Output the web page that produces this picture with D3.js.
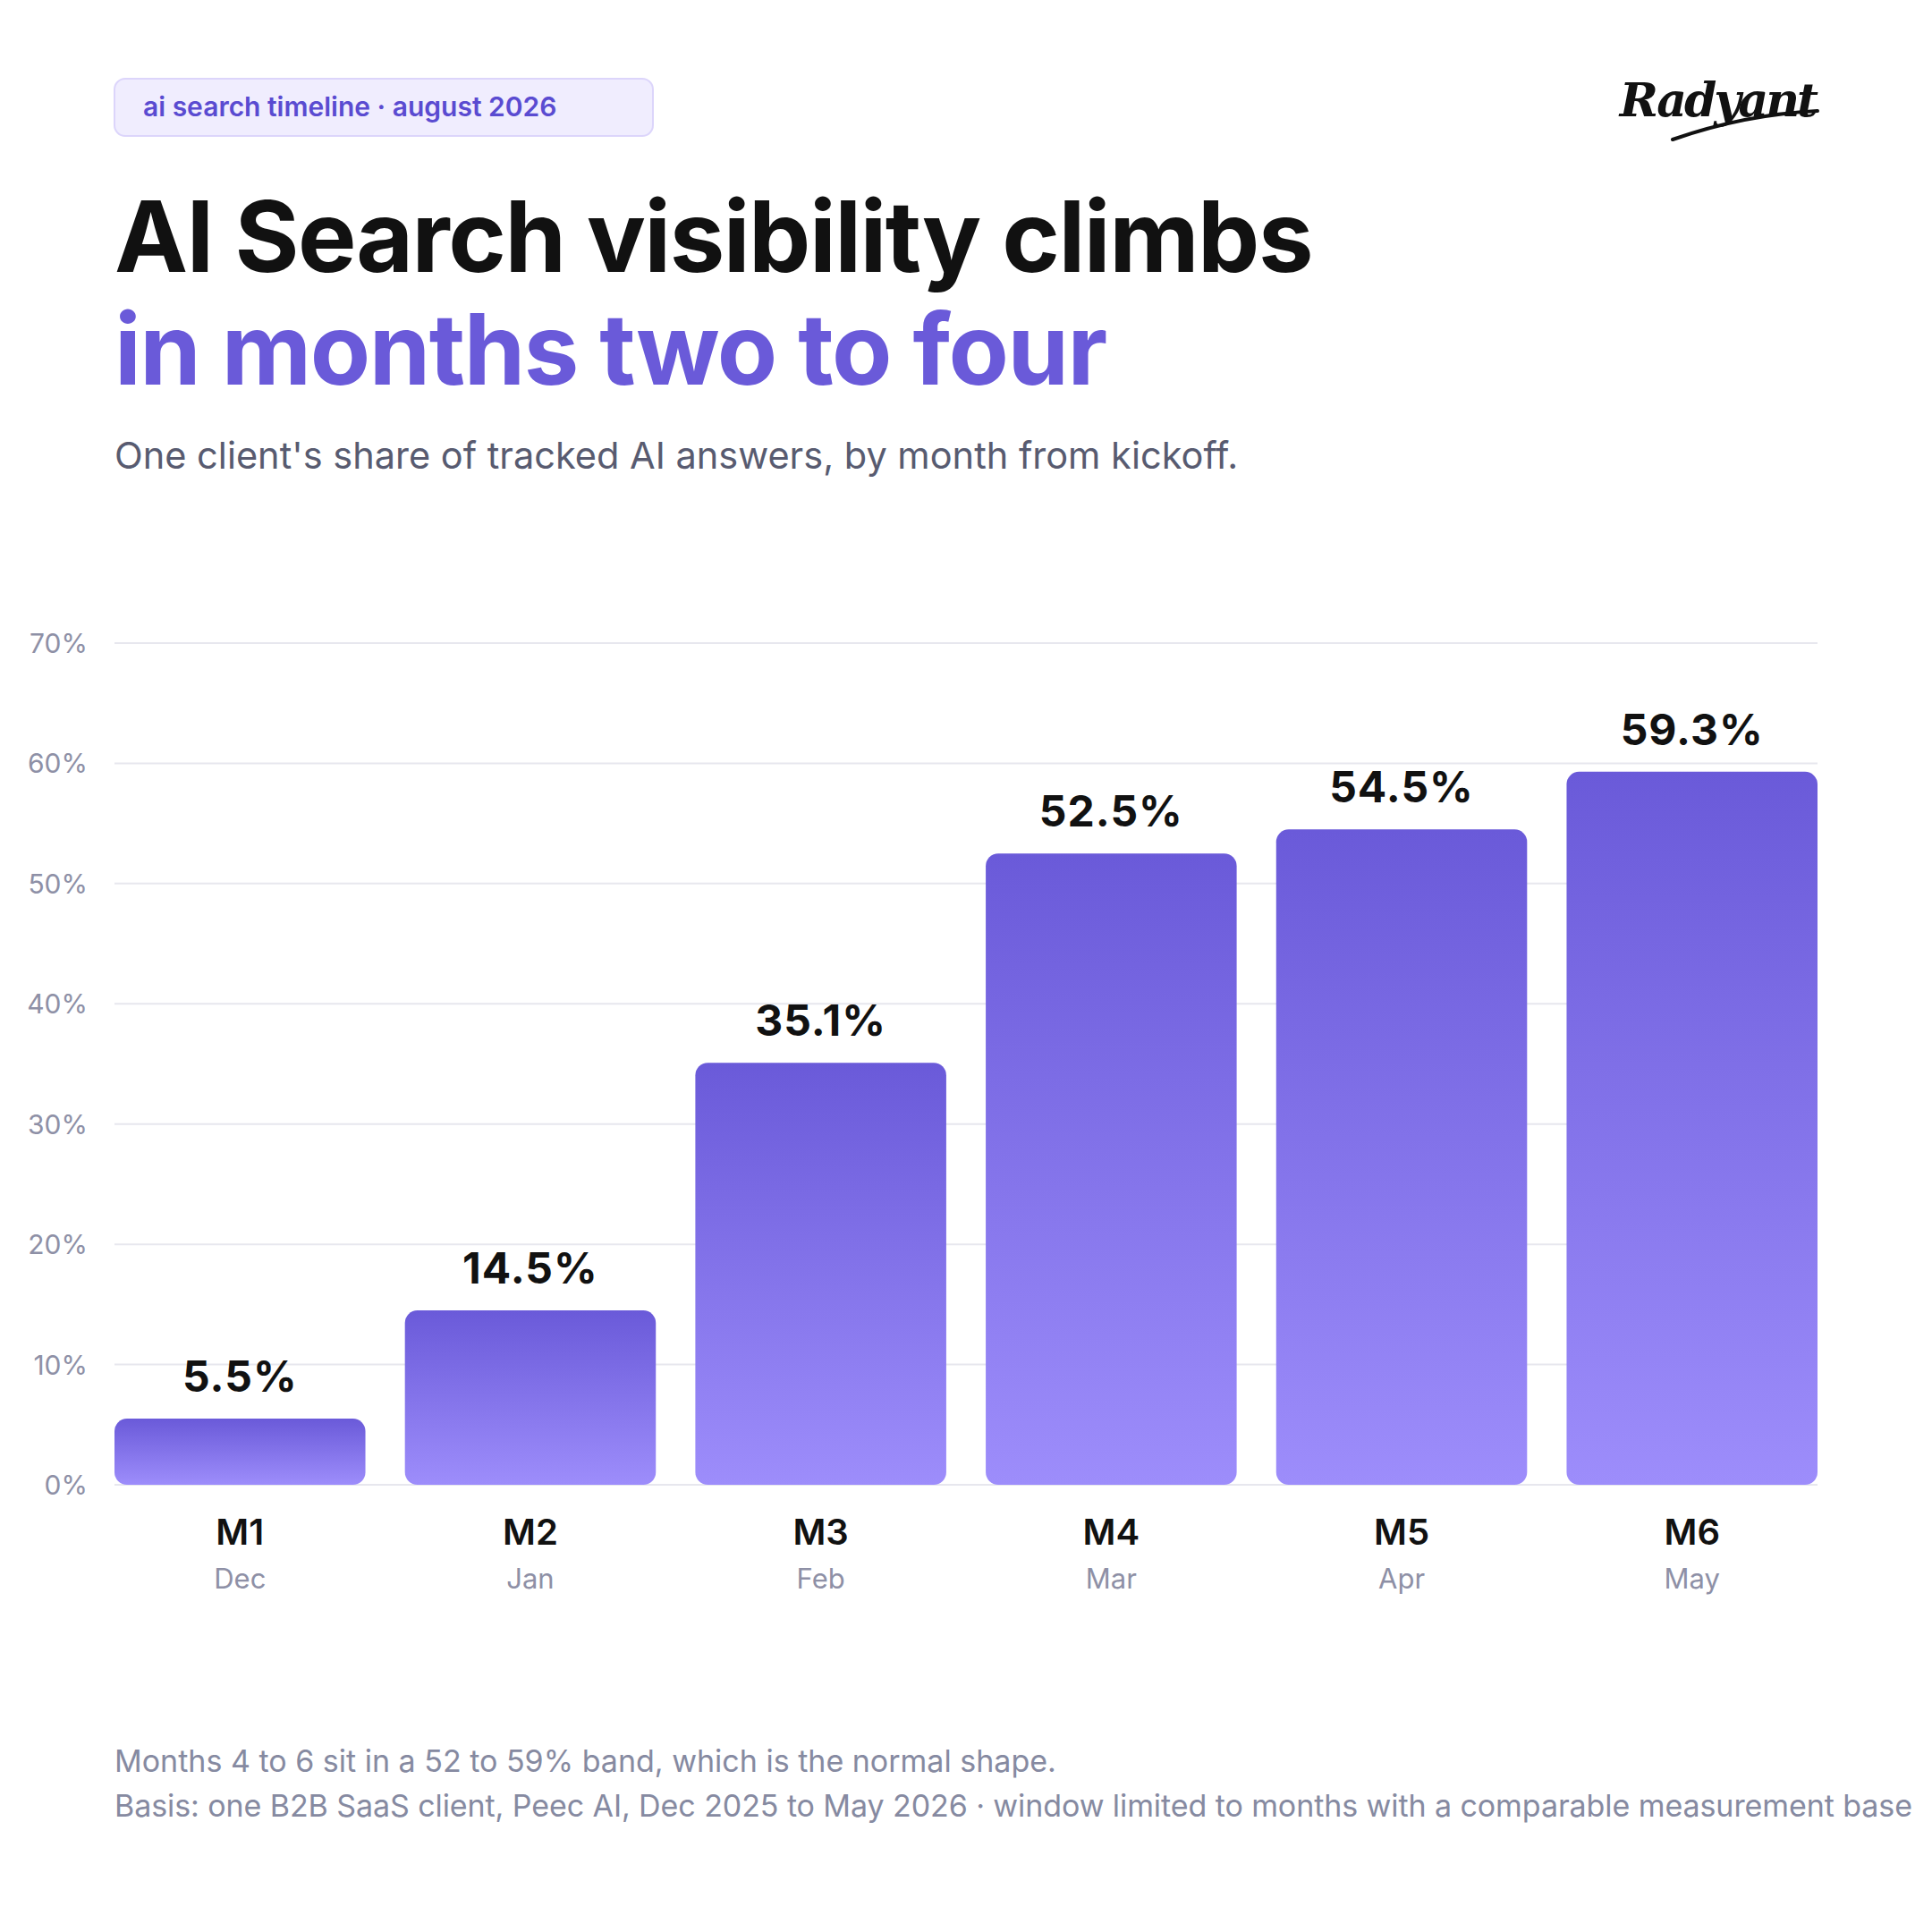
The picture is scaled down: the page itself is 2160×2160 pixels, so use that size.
<!DOCTYPE html>
<html>
<head>
<meta charset="utf-8">
<script src="https://cdn.jsdelivr.net/npm/d3@7"></script>
<style>
  html, body { margin: 0; padding: 0; background: #fff; }
  svg { display: block; font-family: Inter, "Noto Sans", sans-serif; }
</style>
</head>
<body>
<svg id="chart" width="2160" height="2160"></svg>
<script>
var months = ['M1', 'M2', 'M3', 'M4', 'M5', 'M6'];
var monthNames = ['Dec', 'Jan', 'Feb', 'Mar', 'Apr', 'May'];
var shares = [5.5, 14.5, 35.1, 52.5, 54.5, 59.3];
var yTicks = [0, 10, 20, 30, 40, 50, 60, 70];

var svg = d3.select('#chart');
var margin = {left: 128, right: 128};
var W = 2160;

var x = d3.scaleBand().domain(months).range([margin.left, W - margin.right])
    .paddingInner(0.136).paddingOuter(0);
var y = d3.scaleLinear().domain([0, 70]).range([1660, 719]);

var defs = svg.append('defs');
var grad = defs.append('linearGradient').attr('id', 'barGrad')
    .attr('x1', 0).attr('y1', 0).attr('x2', 0).attr('y2', 1);
grad.append('stop').attr('offset', '0%').attr('stop-color', '#6a5ad9');
grad.append('stop').attr('offset', '100%').attr('stop-color', '#9d8dfb');

// header pill
svg.append('rect').attr('x', 128).attr('y', 88).attr('width', 602).attr('height', 64)
    .attr('rx', 12).attr('fill', '#f0edfe').attr('stroke', '#dcd5fb').attr('stroke-width', 2);
svg.append('text').attr('x', 160).attr('y', 130).attr('font-size', 30).attr('font-weight', 600)
    .attr('fill', '#5a4bd1').text('ai search timeline · august 2026');

// logo (script-ish stand-in)
svg.append('text').attr('x', 2030).attr('y', 130).attr('text-anchor', 'end')
    .attr('font-family', '"DejaVu Serif", serif').attr('font-style', 'italic').attr('font-weight', 700)
    .attr('font-size', 52).attr('fill', '#111').attr('letter-spacing', -3).text('Radyant');
svg.append('path').attr('d', 'M1870,156 Q1950,128 2032,124')
    .attr('fill', 'none').attr('stroke', '#111').attr('stroke-width', 4).attr('stroke-linecap', 'round');

// titles
svg.append('text').attr('x', 128).attr('y', 304).attr('font-size', 110).attr('font-weight', 700)
    .attr('letter-spacing', -1.5).attr('fill', '#111').text('AI Search visibility climbs');
svg.append('text').attr('x', 128).attr('y', 430).attr('font-size', 110).attr('font-weight', 700)
    .attr('letter-spacing', -1.5).attr('fill', '#6a5ad9').text('in months two to four');
svg.append('text').attr('x', 128).attr('y', 524).attr('font-size', 41.5)
    .attr('fill', '#585b70').text("One client's share of tracked AI answers, by month from kickoff.");

// grid + y labels
var g = svg.append('g');
g.selectAll('line.grid').data(yTicks).enter().append('line')
    .attr('x1', margin.left).attr('x2', W - margin.right)
    .attr('y1', function (d) { return y(d); }).attr('y2', function (d) { return y(d); })
    .attr('stroke', '#e7e7ee').attr('stroke-width', 2);
g.selectAll('text.ytick').data(yTicks).enter().append('text')
    .attr('x', 98).attr('y', function (d) { return y(d) + 11; })
    .attr('text-anchor', 'end').attr('font-size', 30).attr('fill', '#8e90a6')
    .text(function (d) { return d + '%'; });

// bars
g.selectAll('rect.bar').data(shares).enter().append('rect')
    .attr('x', function (d, i) { return x(months[i]); })
    .attr('y', function (d) { return y(d); })
    .attr('width', x.bandwidth())
    .attr('height', function (d) { return y(0) - y(d); })
    .attr('rx', 14).attr('fill', 'url(#barGrad)');

g.selectAll('text.val').data(shares).enter().append('text')
    .attr('x', function (d, i) { return x(months[i]) + x.bandwidth() / 2; })
    .attr('y', function (d) { return y(d) - 30; })
    .attr('text-anchor', 'middle').attr('font-size', 48).attr('font-weight', 700)
    .attr('letter-spacing', 1).attr('fill', '#111').text(function (d) { return d.toFixed(1) + '%'; });

g.selectAll('text.mon').data(months).enter().append('text')
    .attr('x', function (d) { return x(d) + x.bandwidth() / 2; })
    .attr('y', 1727).attr('text-anchor', 'middle').attr('font-size', 40).attr('font-weight', 600)
    .attr('fill', '#111').text(function (d) { return d; });
g.selectAll('text.mname').data(monthNames).enter().append('text')
    .attr('x', function (d, i) { return x(months[i]) + x.bandwidth() / 2; })
    .attr('y', 1776).attr('text-anchor', 'middle').attr('font-size', 31)
    .attr('fill', '#8e90a6').text(function (d) { return d; });

// footnotes
svg.append('text').attr('x', 128).attr('y', 1981).attr('font-size', 34).attr('fill', '#868aa1')
    .text('Months 4 to 6 sit in a 52 to 59% band, which is the normal shape.');
svg.append('text').attr('x', 128).attr('y', 2031).attr('font-size', 34).attr('fill', '#868aa1')
    .attr('textLength', 2010).attr('lengthAdjust', 'spacing')
    .text('Basis: one B2B SaaS client, Peec AI, Dec 2025 to May 2026 · window limited to months with a comparable measurement base');
</script>
</body>
</html>
